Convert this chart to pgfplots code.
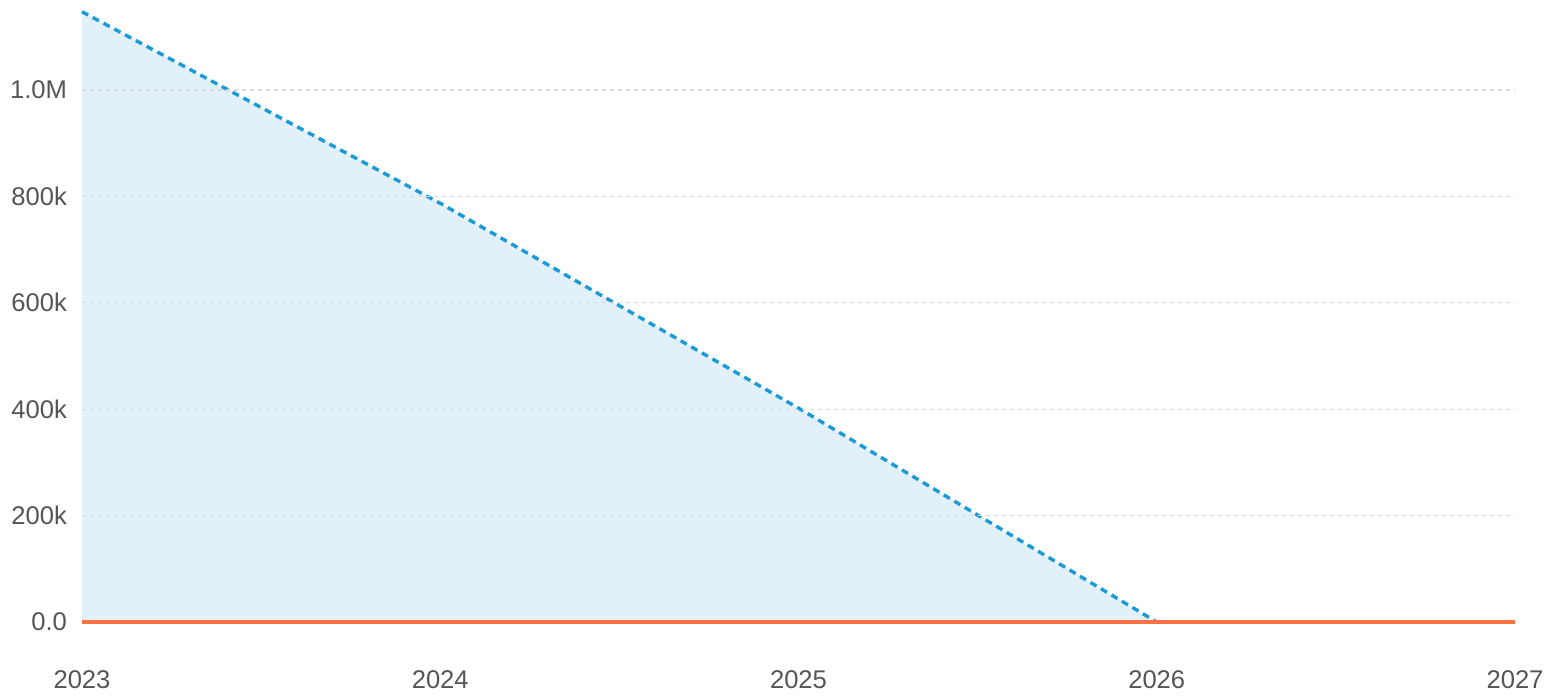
\documentclass[border=0pt]{standalone}
\usepackage{pgfplots}
\pgfplotsset{compat=1.18}
\usepackage{fontspec}
\setmainfont{Liberation Sans}
\definecolor{lineblue}{HTML}{1A9AD6}
\definecolor{fillblue}{HTML}{E1F0F9}
\definecolor{orangeln}{HTML}{FF7043}
\definecolor{gridc}{HTML}{D8D8D8}
\definecolor{labc}{HTML}{555555}
\begin{document}
\begin{tikzpicture}
\begin{axis}[
  scale only axis,
  width=716.5pt, height=307pt,
  xmin=2023, xmax=2027,
  ymin=0, ymax=1.154e6,
  axis line style={draw=none},
  axis on top,
  clip=false,
  xtick={2023,2024,2025,2026,2027},
  xticklabels={2023,2024,2025,2026,2027},
  ytick={200000,400000,600000,800000,1000000},
  extra y ticks={0},
  extra y tick labels={0.0},
  extra y tick style={grid=none},
  yticklabels={200k,400k,600k,800k,1.0M},
  ymajorgrids,
  major grid style={gridc, line width=0.6pt, dash pattern=on 2pt off 2pt},
  major tick length=0pt,
  tick style={draw=none},
  ticklabel style={font=\fontsize{12.8}{14}\selectfont, text=labc},
  xticklabel style={yshift=-21pt},
  yticklabel style={xshift=-4pt},
  scaled y ticks=false,
]
\addplot[fill=fillblue, draw=none] coordinates {(2023,1147000) (2024,787000) (2025,402000) (2026,0)} \closedcycle;
\addplot[lineblue, line width=1.7pt, dash pattern=on 3.5pt off 2.6pt] coordinates {(2023,1147000) (2024,787000) (2025,402000) (2026,0)};
\addplot[orangeln, line width=2pt] coordinates {(2023,0) (2024,0) (2025,0) (2026,0) (2027,0)};
\end{axis}
\pgfresetboundingbox
\path[use as bounding box] (current axis.south west) ++(-41pt,-37pt) rectangle ([xshift=18.5pt,yshift=4pt]current axis.north east);
\end{tikzpicture}
\end{document}
